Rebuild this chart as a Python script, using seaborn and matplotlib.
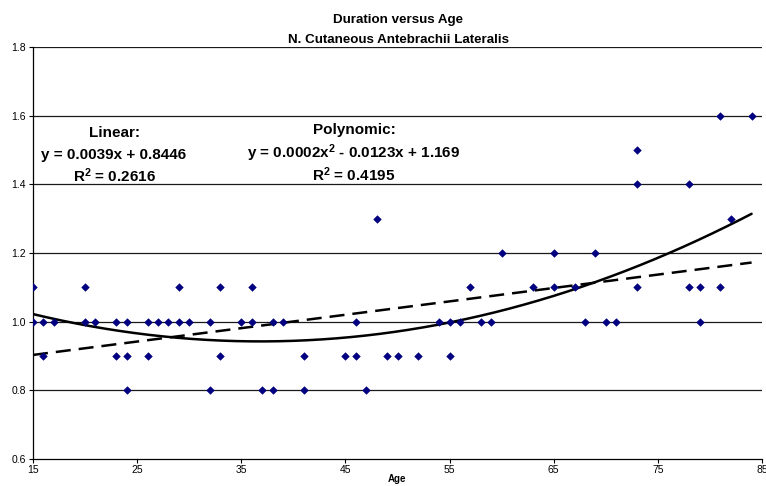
import matplotlib
matplotlib.use("Agg")
import matplotlib.pyplot as plt
import seaborn as sns
import numpy as np
import pandas as pd

# Data (Age, Duration)
ages = [15, 15, 16, 16, 17, 20, 20, 21, 23, 23, 24, 24, 24, 26, 26, 27, 28,
        29, 29, 30, 32, 32, 33, 33, 35, 36, 36, 37, 38, 38, 39, 41, 41, 45,
        46, 46, 47, 48, 49, 50, 52, 54, 55, 55, 56, 57, 58, 59, 60, 63, 65,
        65, 67, 68, 69, 70, 71, 73, 73, 73, 78, 78, 79, 79, 81, 81, 82, 84]
durations = [1.1, 1.0, 1.0, 0.9, 1.0, 1.1, 1.0, 1.0, 1.0, 0.9, 1.0, 0.9, 0.8,
             1.0, 0.9, 1.0, 1.0, 1.1, 1.0, 1.0, 1.0, 0.8, 1.1, 0.9, 1.0, 1.1,
             1.0, 0.8, 1.0, 0.8, 1.0, 0.9, 0.8, 0.9, 1.0, 0.9, 0.8, 1.3, 0.9,
             0.9, 0.9, 1.0, 1.0, 0.9, 1.0, 1.1, 1.0, 1.0, 1.2, 1.1, 1.2, 1.1,
             1.1, 1.0, 1.2, 1.0, 1.0, 1.5, 1.4, 1.1, 1.4, 1.1, 1.1, 1.0, 1.6,
             1.1, 1.3, 1.6]
# Trendline coefficients (highest power first), as shown in the chart
linear_coef = [0.0039, 0.8446]
poly_coef = [0.000167, -0.0123, 1.169]

x_ticks = [15, 25, 35, 45, 55, 65, 75, 85]
y_ticks = [0.6, 0.8, 1.0, 1.2, 1.4, 1.6, 1.8]
title_lines = ["Duration versus Age", "N. Cutaneous Antebrachii Lateralis"]
linear_lines = ["Linear:", "y = 0.0039x + 0.8446", "R$^2$ = 0.2616"]
poly_lines = ["Polynomic:", "y = 0.0002x$^2$ - 0.0123x + 1.169", "R$^2$ = 0.4195"]

df = pd.DataFrame({"Age": ages, "Duration": durations})
xs = np.linspace(min(ages), max(ages), 200)
trend = pd.DataFrame({"Age": xs,
                      "Linear": np.polyval(linear_coef, xs),
                      "Poly": np.polyval(poly_coef, xs)})

sns.set_theme(style="white")
plt.rcParams['font.family'] = ['Liberation Sans', 'DejaVu Sans']
plt.rcParams['text.color'] = 'black'
plt.rcParams['axes.labelcolor'] = 'black'
plt.rcParams['xtick.color'] = 'black'
plt.rcParams['ytick.color'] = 'black'
plt.rcParams['mathtext.fontset'] = 'custom'
plt.rcParams['mathtext.rm'] = 'Liberation Sans:bold'
plt.rcParams['mathtext.it'] = 'Liberation Sans:bold'
plt.rcParams['mathtext.bf'] = 'Liberation Sans:bold'

fig = plt.figure(figsize=(7.66, 4.86), dpi=100)
ax = fig.add_axes([33/766, 1-459/486, (762-33)/766, (459-47)/486])

# horizontal gridlines
for yv in y_ticks[1:]:
    ax.axhline(yv, color="#1a1a1a", lw=0.9, zorder=1)

sns.lineplot(data=trend, x="Age", y="Linear", ax=ax, color="black", lw=1.8,
             dashes=False, zorder=3).lines[-1].set_linestyle((0, (6, 3.2)))
sns.lineplot(data=trend, x="Age", y="Poly", ax=ax, color="black", lw=1.8, zorder=3)
sns.scatterplot(data=df, x="Age", y="Duration", marker="D", s=15,
                color="#000080", edgecolor="#000080", linewidth=0.4, ax=ax, zorder=4)

ax.set_xlim(15, 85)
ax.set_ylim(0.6, 1.8)
ax.set_xticks(x_ticks)
ax.set_yticks(y_ticks)
ax.set_xticklabels([str(t) for t in x_ticks], fontsize=7.5)
ax.set_yticklabels([f"{t:.1f}" for t in y_ticks], fontsize=7.5)
ax.tick_params(axis="both", direction="out", length=3, width=0.8, color="black",
               bottom=True, left=True)
ax.tick_params(axis="x", pad=1)
ax.tick_params(axis="y", pad=2)
for s in ["top", "right"]:
    ax.spines[s].set_visible(False)
for s in ["left", "bottom"]:
    ax.spines[s].set_color("black")
    ax.spines[s].set_linewidth(0.9)

ax.set_xlabel("")
ax.set_ylabel("")
fig.text(397/766, 1-479/486, "Age", ha="center", va="center",
         fontsize=7, fontweight="bold")

fig.text(398/766, 1-20/486, title_lines[0], ha="center", va="center",
         fontsize=9.6, fontweight="bold")
fig.text(398/766, 1-40/486, title_lines[1], ha="center", va="center",
         fontsize=9.6, fontweight="bold")

for txt, yp in zip(linear_lines, [133, 155, 176]):
    fig.text(114/766, 1-yp/486, txt, ha="center", va="center",
             fontsize=11, fontweight="bold")
for txt, yp in zip(poly_lines, [130, 153, 175]):
    fig.text(354/766, 1-yp/486, txt, ha="center", va="center",
             fontsize=11, fontweight="bold")

fig.savefig("out.png", dpi=100)
